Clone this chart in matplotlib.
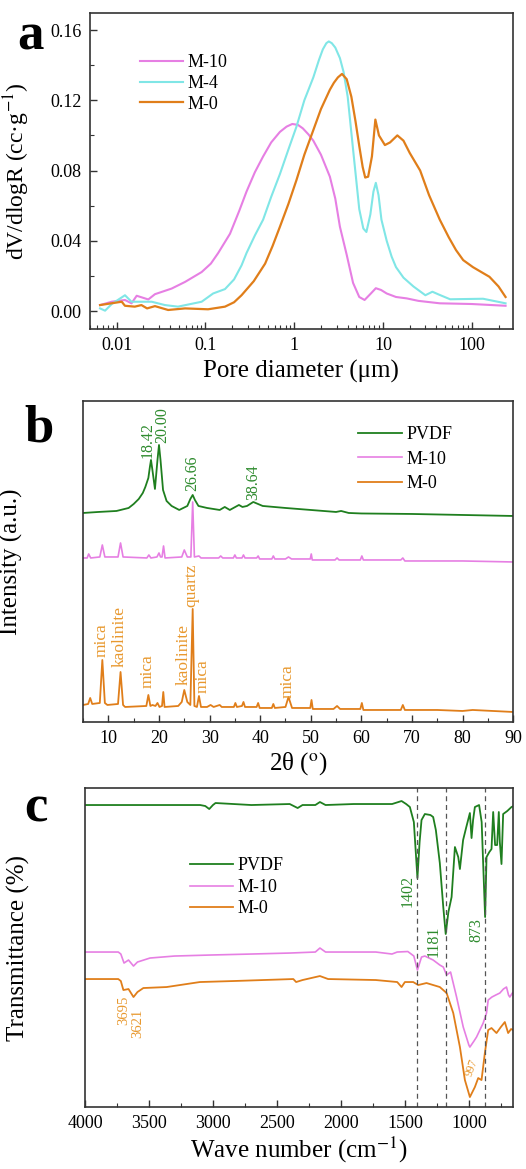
import matplotlib
matplotlib.use('Agg')
import matplotlib.pyplot as plt
from matplotlib.ticker import MultipleLocator, LogLocator, NullFormatter, FixedLocator, FixedFormatter

plt.rcParams['font.family'] = ['Liberation Serif', 'DejaVu Serif']
plt.rcParams['mathtext.fontset'] = 'stix'

# ---- panel a: pore size distribution ----
pore_m10 = [0.0065, 0.0088, 0.0124, 0.0147, 0.0168, 0.0227, 0.027, 0.0416, 0.059, 0.0906, 0.115, 0.139, 0.189,
            0.24, 0.29, 0.36, 0.446, 0.55, 0.69, 0.82, 0.95, 1.1, 1.25, 1.45, 1.64, 2.0, 2.52, 2.9, 3.27, 3.9,
            4.6, 5.4, 6.2, 7.3, 8.3, 9.5, 11, 14, 18.5, 25, 43.6, 100, 240]
v_m10 = [0.0034, 0.0053, 0.0063, 0.0044, 0.0087, 0.0066, 0.0096, 0.0128, 0.0166, 0.0222, 0.027, 0.0330, 0.044,
         0.057, 0.068, 0.079, 0.088, 0.096, 0.102, 0.105, 0.1065, 0.106, 0.104, 0.1005, 0.097, 0.089, 0.0765, 0.064,
         0.048, 0.032, 0.016, 0.008, 0.0063, 0.010, 0.013, 0.012, 0.010, 0.008, 0.0072, 0.0058, 0.0044, 0.004, 0.003]

pore_m4 = [0.0065, 0.0074, 0.0088, 0.0124, 0.0147, 0.0248, 0.035, 0.049, 0.0906, 0.122, 0.166, 0.21, 0.255,
           0.29, 0.36, 0.446, 0.55, 0.69, 0.86, 1.06, 1.3, 1.64, 1.9, 2.1, 2.3, 2.45, 2.65, 2.9, 3.27, 3.6, 4.0,
           4.6, 5.4, 6.0, 6.5, 7.2, 7.8, 8.3, 8.9, 9.6, 11, 12.5, 14, 17, 22, 30, 36, 42, 57, 134, 240]
v_m4 = [0.0015, 0.0002, 0.004, 0.009, 0.0053, 0.0053, 0.0034, 0.0025, 0.0053, 0.010, 0.0125, 0.018, 0.026,
        0.033, 0.043, 0.052, 0.065, 0.078, 0.092, 0.105, 0.120, 0.133, 0.143, 0.149, 0.1525, 0.1535, 0.1525, 0.150,
        0.144, 0.136, 0.122, 0.092, 0.058, 0.047, 0.045, 0.055, 0.068, 0.073, 0.066, 0.052, 0.040, 0.031, 0.025,
        0.019, 0.014, 0.009, 0.011, 0.0095, 0.0067, 0.007, 0.0044]

pore_m0 = [0.0065, 0.0114, 0.0124, 0.016, 0.019, 0.022, 0.027, 0.038, 0.059, 0.107, 0.166, 0.21, 0.255,
           0.35, 0.47, 0.57, 0.69, 0.86, 1.06, 1.3, 1.64, 2.0, 2.52, 2.8, 3.1, 3.45, 3.9, 4.4, 4.9, 5.4, 5.9,
           6.3, 6.8, 7.5, 8.2, 9.0, 10.5, 12, 14.5, 17, 20, 26.2, 33, 43.6, 55, 66.4, 80, 103, 130, 158, 200, 240]
v_m0 = [0.0034, 0.0053, 0.003, 0.0025, 0.0034, 0.0015, 0.0028, 0.0006, 0.0015, 0.001, 0.0025, 0.005, 0.009,
        0.017, 0.027, 0.037, 0.048, 0.061, 0.0746, 0.089, 0.103, 0.115, 0.126, 0.130, 0.133, 0.135, 0.132, 0.122,
        0.108, 0.094, 0.082, 0.076, 0.0765, 0.088, 0.109, 0.100, 0.0945, 0.096, 0.100, 0.097, 0.090, 0.080, 0.066,
        0.052, 0.042, 0.0347, 0.029, 0.025, 0.022, 0.0195, 0.014, 0.008]

# ---- panel b: XRD ----
tt_pvdf = [5, 8, 11.6, 14, 15, 16, 16.8, 17.3, 17.9, 18.2, 18.42, 18.7, 19.2, 19.7, 20.0, 20.3, 20.8, 21.5,
           22.5, 24, 25.6, 26.2, 26.66, 27.1, 27.8, 29.5, 32, 33, 34, 35.8, 36.5, 37.4, 38.64, 40.5, 45, 50,
           55, 56, 57.5, 60, 70, 80, 90]
int_pvdf = [209, 210, 211, 214, 218, 223, 229, 235, 244, 255, 262, 252, 233, 262, 277, 262, 232, 221,
            216, 212, 216, 223, 227, 222, 216, 214, 212, 215, 212, 217, 215, 216, 220, 216, 214, 212,
            210, 211, 209, 208.5, 208, 207, 206]

tt_m10 = [5.0, 5.8, 6.1, 6.5, 8.3, 8.8, 9.3, 11.9, 12.4, 12.9, 17.6, 18.0, 18.4, 19.6, 20.0, 20.3, 20.6,
          20.9, 21.2, 24.5, 25.0, 25.6, 26.3, 26.66, 27.0, 27.9, 28.3, 31.8, 32.2, 32.6, 34.7, 35.0, 35.3,
          36.4, 36.7, 37.0, 39.3, 39.6, 39.9, 42.3, 42.6, 42.9, 45.0, 45.6, 46.2, 49.9, 50.1, 50.3, 54.8,
          55.2, 55.6, 59.8, 60.1, 60.4, 67.8, 68.2, 68.6, 80, 90]
int_m10 = [164, 164, 168, 164, 165, 177, 165, 165, 179, 165, 164, 167, 164, 165, 169, 165, 165,
           176, 164, 165, 172, 165, 165, 220, 165, 166, 164, 164, 166, 164, 164, 167, 164,
           164, 167, 164, 164, 166, 163, 163, 166, 163, 163, 165, 163, 163, 168, 162, 162,
           164, 162, 162, 166, 162, 162, 164, 161, 161, 160]

tt_m0 = [5.0, 6.0, 6.4, 6.8, 8.3, 8.8, 9.3, 9.8, 11.9, 12.4, 12.9, 13.3, 17.5, 17.9, 18.3, 18.7, 19.3,
         19.7, 20.1, 20.6, 20.85, 21.1, 23.8, 24.5, 25.0, 25.6, 26.2, 26.66, 27.0, 27.5, 27.9, 28.3, 29.5,
         30.2, 30.8, 32.0, 32.4, 34.8, 35.1, 35.4, 36.4, 36.7, 37.0, 39.3, 39.6, 39.9, 42.3, 42.6, 42.9,
         45.0, 45.6, 46.3, 49.9, 50.15, 50.4, 54.5, 55.2, 55.8, 59.8, 60.1, 60.4, 67.8, 68.2, 68.6, 75,
         80, 82, 90]
int_m0 = [17, 18, 24, 18, 19, 62, 19, 17, 18, 50, 17, 15, 16, 27, 16, 17, 16,
          19, 15, 16, 30, 15, 16, 20, 32, 20, 17, 113, 16, 15, 26, 15, 15,
          17, 15, 17, 15, 15, 19, 15, 16, 20, 15, 15, 19, 14, 14, 18, 14,
          15, 25, 14, 14, 22, 13, 13, 16, 13, 13, 19, 12, 12, 17, 12, 12,
          11, 12, 10]

pvdf_peaks = [18.42, 20.00, 26.66, 38.64]
pvdf_label_x = [17.7, 20.6, 26.66, 38.64]
pvdf_peak_tops = [264, 279, 231, 222]
m0_phases = ['mica', 'kaolinite', 'mica', 'kaolinite', 'quartz', 'mica', 'mica']
m0_phase_pos = [8.6, 12.3, 17.8, 24.8, 26.4, 28.6, 45.5]
m0_phase_tops = [65, 55, 34, 37, 115, 29, 24]

# ---- panel c: FTIR ----
wn_pvdf = [4000, 3500, 3100, 3060, 3029, 3000, 2980, 2700, 2400, 2338, 2300, 2200, 2164, 2120, 1900,
           1600, 1526, 1490, 1461, 1430, 1402, 1385, 1370, 1344, 1300, 1279, 1258, 1227, 1200, 1181,
           1160, 1135, 1109, 1083, 1070, 1045, 1020, 992, 979, 967, 953, 920, 900, 873, 862, 840,
           823, 810, 795, 779, 766, 758, 745, 732, 700, 667, 650]
t_pvdf = [302, 302, 302, 301, 298, 302, 304, 302, 303, 299, 302, 302, 305, 302, 303,
          303, 306, 303, 300, 285, 229, 265, 287, 293, 292, 290, 277, 244, 200, 173,
          195, 210, 260, 250, 238, 267, 280, 294, 269, 287, 300, 302, 285, 190, 250, 255,
          258, 295, 262, 262, 295, 265, 243, 293, 296, 300, 301]

wn_m10 = [4000, 3740, 3720, 3695, 3660, 3621, 3590, 3492, 3300, 3023, 2700, 2398, 2200, 2164, 2120,
          1900, 1727, 1601, 1560, 1477, 1430, 1402, 1370, 1344, 1279, 1227, 1200, 1174, 1143, 1096,
          1044, 1000, 992, 960, 940, 888, 862, 849, 820, 790, 758, 730, 706, 690, 680, 660, 650]
t_m10 = [155, 155, 153, 144, 147, 141, 145, 149, 151, 152, 153, 154, 155, 159, 155,
         155, 155, 153, 155, 155.5, 151, 137, 150, 151, 147, 142, 140, 132, 135, 110,
         80, 62, 60, 66, 70, 84, 94, 107, 110, 112, 114, 118, 120, 112, 110, 114, 115]

wn_m0 = [4000, 3740, 3720, 3700, 3660, 3621, 3590, 3544, 3362, 3102, 2841, 2372, 2350, 2300, 2164,
         2100, 1727, 1560, 1526, 1500, 1435, 1396, 1331, 1227, 1174, 1122, 1070, 1031, 992, 953,
         927, 901, 875, 849, 823, 784, 750, 719, 693, 670, 654]
t_m0 = [128, 128, 126, 117, 118, 110, 115, 119, 120, 125, 126, 128, 125, 127, 131,
        128, 127, 125, 120, 125, 125, 122, 124, 120, 114, 94, 60, 27, 10, 20,
        29, 27, 54, 77, 79, 74, 80, 85, 74, 78, 77]

ir_lines = [1402, 1181, 873]
ir_labels = ['1402', '1181', '873']
ir_label_y = [216, 166, 177]
ir_label_x = [1475, 1279, 940]
oh_labels = ['3695', '3621']
oh_label_x = [3700, 3590]
oh_label_y = [97, 84]

c_m10 = '#E67FE3'
c_m4 = '#80E6E6'
c_m0 = '#E07E1A'
c_pvdf = '#1F7F1F'
c_txt_green = '#2E8B2E'
c_txt_orange = '#E8982E'
spine_c = '#333333'

fig = plt.figure(figsize=(5.26, 11.69), dpi=100)


def style_axes(ax):
    for s in ax.spines.values():
        s.set_color(spine_c)
        s.set_linewidth(1.2)
    ax.tick_params(which='both', direction='in', color=spine_c, labelsize=13, pad=6)
    ax.tick_params(which='major', length=5, width=1)
    ax.tick_params(which='minor', length=3, width=0.8)


# panel a
ax1 = fig.add_axes([0.171, 0.7186, 0.804, 0.2703])
ax1.plot(pore_m10, v_m10, color=c_m10, lw=1.5, label='M-10')
ax1.plot(pore_m4, v_m4, color=c_m4, lw=1.5, label='M-4')
ax1.plot(pore_m0, v_m0, color=c_m0, lw=1.6, label='M-0')
ax1.set_xscale('log')
ax1.set_xlim(0.005, 290)
ax1.set_ylim(-0.0102, 0.1697)
ax1.xaxis.set_major_locator(FixedLocator([0.01, 0.1, 1, 10, 100]))
ax1.xaxis.set_major_formatter(FixedFormatter(['0.01', '0.1', '1', '10', '100']))
ax1.xaxis.set_minor_locator(LogLocator(base=10, subs=range(2, 10)))
ax1.xaxis.set_minor_formatter(NullFormatter())
ax1.yaxis.set_major_locator(MultipleLocator(0.04))
ax1.yaxis.set_minor_locator(MultipleLocator(0.02))
ax1.yaxis.set_major_formatter(plt.FuncFormatter(lambda v, p: '%.2f' % v))
style_axes(ax1)
ax1.set_xlabel('Pore diameter (μm)', fontsize=18, labelpad=4)
ax1.set_ylabel('dV/dlogR (cc·g$^{-1}$)', fontsize=17)
ax1.yaxis.set_label_coords(-0.138, 0.5)
ax1.legend(loc='upper left', bbox_to_anchor=(0.266, 0.9535), bbox_transform=fig.transFigure,
           frameon=False, fontsize=13, handlelength=2.4, handletextpad=0.25, labelspacing=0.2,
           borderpad=0, borderaxespad=0)

# panel b
ax2 = fig.add_axes([0.158, 0.3824, 0.8175, 0.2746])
ax2.plot(tt_pvdf, int_pvdf, color=c_pvdf, lw=1.3, label='PVDF')
ax2.plot(tt_m10, int_m10, color=c_m10, lw=1.2, label='M-10')
ax2.plot(tt_m0, int_m0, color=c_m0, lw=1.3, label='M-0')
ax2.set_xlim(5, 90)
ax2.set_ylim(0, 321)
ax2.xaxis.set_major_locator(MultipleLocator(10))
ax2.xaxis.set_minor_locator(MultipleLocator(5))
ax2.set_yticks([])
style_axes(ax2)
ax2.set_xlabel('2θ ($^{\\rm o}$)', fontsize=18, labelpad=2)
ax2.set_ylabel('Intensity (a.u.)', fontsize=18)
ax2.yaxis.set_label_coords(-0.14, 0.5)
for v, x, y in zip(pvdf_peaks, pvdf_label_x, pvdf_peak_tops):
    ax2.text(x, y, '%.2f' % v, rotation=90, ha='center', va='bottom', color=c_txt_green, fontsize=11.5)
for name, x, y in zip(m0_phases, m0_phase_pos, m0_phase_tops):
    ax2.text(x, y, name, rotation=90, ha='center', va='bottom', color=c_txt_orange, fontsize=12.5)
ax2.legend(loc='upper left', bbox_to_anchor=(0.681, 0.6356), bbox_transform=fig.transFigure,
           frameon=False, fontsize=13, handlelength=2.4, handletextpad=0.25, labelspacing=0.42,
           borderpad=0, borderaxespad=0)

# panel c
ax3 = fig.add_axes([0.1616, 0.053, 0.8137, 0.2729])
ax3.plot(wn_pvdf, t_pvdf, color=c_pvdf, lw=1.3, label='PVDF')
ax3.plot(wn_m10, t_m10, color=c_m10, lw=1.2, label='M-10')
ax3.plot(wn_m0, t_m0, color=c_m0, lw=1.3, label='M-0')
for w in ir_lines:
    ax3.axvline(w, color='#555555', lw=0.9, ls=(0, (4, 3)))
ax3.set_xlim(4000, 655)
ax3.set_ylim(0, 319)
ax3.xaxis.set_major_locator(MultipleLocator(500))
ax3.xaxis.set_minor_locator(MultipleLocator(250))
ax3.set_yticks([])
style_axes(ax3)
ax3.set_xlabel('Wave number (cm$^{-1}$)', fontsize=18, labelpad=2)
ax3.set_ylabel('Transmittance (%)', fontsize=18)
ax3.yaxis.set_label_coords(-0.128, 0.5)
for lab, x, y in zip(ir_labels, ir_label_x, ir_label_y):
    ax3.text(x, y, lab, rotation=90, ha='center', va='center', color=c_txt_green, fontsize=11.5)
ax3.text(979, 39, '997', rotation=70, ha='center', va='center', color=c_txt_orange, fontsize=8.5)
for lab, x, y in zip(oh_labels, oh_label_x, oh_label_y):
    ax3.text(x, y, lab, rotation=90, ha='center', va='center', color=c_txt_orange, fontsize=10.5)
ax3.legend(loc='upper left', bbox_to_anchor=(0.361, 0.2665), bbox_transform=fig.transFigure,
           frameon=False, fontsize=13, handlelength=2.4, handletextpad=0.25, labelspacing=0.25,
           borderpad=0, borderaxespad=0)

# panel letters
fig.text(0.032, 0.989, 'a', fontsize=38, fontweight='bold', va='top', ha='left')
fig.text(0.046, 0.654, 'b', fontsize=38, fontweight='bold', va='top', ha='left')
fig.text(0.046, 0.329, 'c', fontsize=38, fontweight='bold', va='top', ha='left')

fig.savefig('out.png', dpi=100)
